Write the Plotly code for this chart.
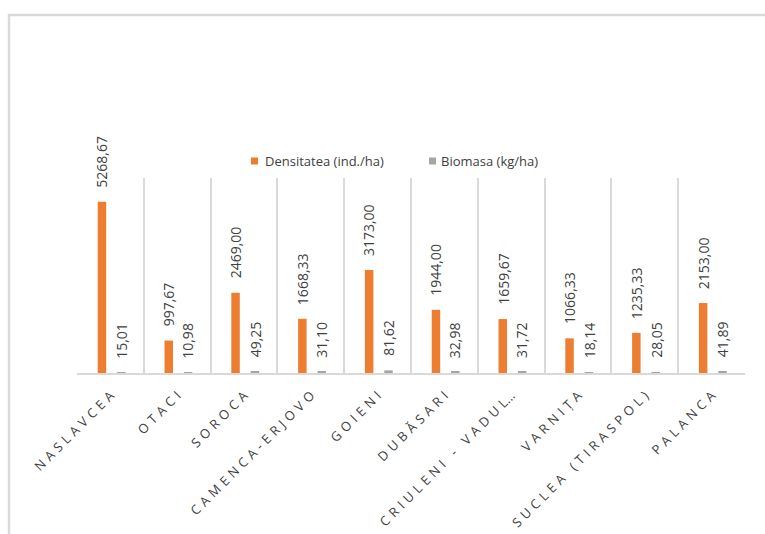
import plotly.graph_objects as go

# Sampling stations along the river (axis labels)
categories = ["NASLAVCEA", "OTACI", "SOROCA", "CAMENCA-ERJOVO", "GOIENI",
              "DUBĂSARI", "CRIULENI - VADUL...", "VARNIȚA",
              "SUCLEA (TIRASPOL)", "PALANCA"]
# Density, individuals per hectare
density = [5268.67, 997.67, 2469.00, 1668.33, 3173.00,
           1944.00, 1659.67, 1066.33, 1235.33, 2153.00]
# Biomass, kg per hectare
biomass = [15.01, 10.98, 49.25, 31.10, 81.62,
           32.98, 31.72, 18.14, 28.05, 41.89]

series_names = ["Densitatea (ind./ha)", "Biomasa (kg/ha)"]
series_colors = ["#ED7D31", "#A5A5A5"]

W, H = 765, 534
L, R, T, B = 77, 20, 178, 161
PW, PH = W - L - R, H - T - B
Y_MAX = 6000

BAR_W = 0.127
OFFSETS = [-0.19, 0.10]
TEXT = "#404040"
GRID = "#D9D9D9"


def px_to_paper(px, py):
    return (px - L) / PW, (H - B - py) / PH


def spaced(label):
    """Wide letter tracking for the station names."""
    tail = ""
    if label.endswith("..."):
        label, tail = label[:-3], "..."
    return "\u2004".join(label) + tail


def fmt(v):
    return f"{v:.2f}".replace(".", ",")


fig = go.Figure()
for name, vals, color, off in zip(series_names, [density, biomass],
                                  series_colors, OFFSETS):
    fig.add_trace(go.Bar(
        x=categories, y=vals, name=name, marker_color=color,
        marker_line_width=0, width=BAR_W, offset=off, showlegend=False,
    ))

annotations = []
# Value labels, rotated, sitting just above each bar
for vals, off in zip([density, biomass], OFFSETS):
    for i, v in enumerate(vals):
        annotations.append(dict(
            x=i + off + BAR_W / 2, y=v, xref="x", yref="y",
            text=fmt(v), textangle=-90, showarrow=False,
            xanchor="center", yanchor="bottom", yshift=12,
            font=dict(family="Open Sans", size=14, color=TEXT),
        ))

shapes = []
# Legend swatches and texts
legend_items = [(251, 263), (429, 439)]
for (sx, tx), name, color in zip(legend_items, series_names, series_colors):
    x0, y0 = px_to_paper(sx, 164.5)
    x1, y1 = px_to_paper(sx + 7, 157.5)
    shapes.append(dict(type="rect", xref="paper", yref="paper",
                       x0=x0, y0=y0, x1=x1, y1=y1,
                       fillcolor=color, line_width=0))
    ax, ay = px_to_paper(tx, 161)
    annotations.append(dict(
        x=ax, y=ay, xref="paper", yref="paper", text=name,
        showarrow=False, xanchor="left", yanchor="middle",
        font=dict(family="Open Sans", size=13, color=TEXT),
    ))

# Chart frame
fx0, fy1 = px_to_paper(9, 15)
fx1, fy0 = px_to_paper(820, 600)
shapes.append(dict(type="rect", xref="paper", yref="paper",
                   x0=fx0, y0=fy0, x1=fx1, y1=fy1,
                   line=dict(color=GRID, width=2.5), fillcolor="rgba(0,0,0,0)",
                   layer="below"))

fig.update_layout(
    width=W, height=H,
    margin=dict(l=L, r=R, t=T, b=B, pad=0, autoexpand=False),
    paper_bgcolor="white", plot_bgcolor="white",
    barmode="overlay",
    showlegend=False,
    annotations=annotations,
    shapes=shapes,
    xaxis=dict(
        type="category", tickmode="array", tickvals=categories,
        ticktext=[spaced(c) for c in categories],
        tickangle=-45, tickson="boundaries", ticks="",
        showgrid=True, gridcolor=GRID, gridwidth=1.5,
        showline=True, linecolor=GRID, linewidth=2,
        range=[-0.5, len(categories) - 0.5],
        tickfont=dict(family="Open Sans", size=13, color=TEXT),
        ticklabelstandoff=8, automargin=False,
    ),
    yaxis=dict(
        range=[0, Y_MAX], showgrid=False, zeroline=False,
        showticklabels=False, showline=False, automargin=False,
    ),
)

fig.write_html("out.html")
